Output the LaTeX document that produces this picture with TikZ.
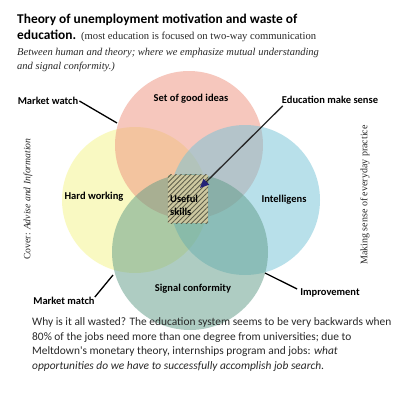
\documentclass[tikz,border=0pt]{standalone}
\usepackage{fontspec}
\setmainfont{Liberation Serif}
\newfontfamily\calfont{Carlito}
\usetikzlibrary{patterns.meta,arrows.meta}
\definecolor{cyel}{RGB}{245,245,135}
\definecolor{cred}{RGB}{238,145,125}
\definecolor{cblue}{RGB}{115,195,215}
\definecolor{cteal}{RGB}{95,155,135}
\definecolor{navytip}{RGB}{35,35,120}
\definecolor{hatchbg}{RGB}{205,200,160}
\definecolor{hatchln}{RGB}{95,95,75}
\definecolor{txtgray}{RGB}{40,40,40}
\begin{document}
\begin{tikzpicture}[x=1pt,y=-1pt,
  venn/.style={circle,draw=none,inner sep=0pt,outer sep=0pt,fill opacity=0.5},
  vlabel/.style={font=\calfont\bfseries\fontsize{10.5}{12}\selectfont,inner sep=0pt,text=black},
  conn/.style={draw=black,line width=1.3pt},
  title/.style={anchor=base west,inner sep=0pt},
  para/.style={anchor=base west,inner sep=0pt,font=\calfont\fontsize{11.4}{13}\selectfont,text=txtgray},
  side/.style={inner sep=0pt,rotate=90,text=txtgray}]
\useasboundingbox (0,0) rectangle (400,400);
\fill[white] (0,0) rectangle (400,400);

% circles
\node[venn,fill=cyel,minimum size=146pt] (yel) at (135,200) {};
\node[venn,fill=cred,minimum size=148pt] (red) at (189,145) {};
\node[venn,fill=cblue,minimum size=150pt] (blu) at (245,200) {};
\node[venn,fill=cteal,minimum size=156pt] (tea) at (190,252) {};

% hatched box
\node[draw=none,fill=hatchbg,minimum width=40pt,minimum height=48pt,inner sep=0pt] (skills) at (188,199) {};
\fill[pattern={Lines[distance=3.5pt,angle=45,line width=0.9pt]},pattern color=hatchln] (skills.south west) rectangle (skills.north east);
\node[vlabel,align=left,anchor=north west,font=\calfont\bfseries\fontsize{10.5}{13}\selectfont] (skillstxt) at (170,195) {Useful\\skills};

% title
\node[title,font=\calfont\bfseries\fontsize{13.4}{15}\selectfont] (t1) at (17,23) {Theory of unemployment motivation and waste of};
\node[title,font=\calfont\bfseries\fontsize{13.4}{15}\selectfont] (t2) at (17,39) {education.};
\node[title,font=\fontsize{10.6}{12}\selectfont,text=txtgray] (t2b) at (81,39) {(most education is focused on two-way communication};
\node[title,font=\itshape\fontsize{10.5}{12}\selectfont,text=txtgray] (t3) at (17,55.5) {Between human and theory; where we emphasize mutual understanding};
\node[title,font=\itshape\fontsize{10.5}{12}\selectfont,text=txtgray] (t4) at (17,69) {and signal conformity.)};

% labels
\node[vlabel] (ideas) at (191,99) {Set of good ideas};
\node[vlabel] (hard) at (94,197) {Hard working};
\node[vlabel] (intel) at (284,200) {Intelligens};
\node[vlabel] (signal) at (193,289) {Signal conformity};
\node[vlabel] (mwatch) at (48,101) {Market watch};
\node[vlabel] (mmatch) at (64,301) {Market match};
\node[vlabel] (improve) at (330,293) {Improvement};
\node[vlabel] (edu) at (330,100) {Education make sense};

% connectors
\coordinate (mwend) at (117,123);
\coordinate (mmend) at (113,275);
\coordinate (imend) at (265,273);
\coordinate (tip) at (200,188);
\draw[conn] ([xshift=1pt]mwatch.east) -- (mwend);
\draw[conn] (mmatch.north east) -- (mmend);
\draw[conn] (imend) -- ([xshift=-3pt,yshift=4pt]improve.west);
\draw[draw=txtgray,line width=1.3pt,-{Triangle[length=9pt,width=8pt,fill=navytip,color=navytip]}] ([xshift=1pt,yshift=-2pt]edu.south west) -- (tip);

% side texts
\node[side,font=\fontsize{9.7}{12}\selectfont] (cover) at (28,199) {Cover: \textit{Advise and Information}};
\node[side,font=\fontsize{10}{12}\selectfont] (making) at (365,195) {Making sense of everyday practice};

% paragraph
\node[para] (p1) at (32,325.5) {Why is it all wasted? The education system seems to be very backwards when};
\node[para] (p2) at (32,340) {80\% of the jobs need more than one degree from universities; due to};
\node[para] (p3) at (32,354.5) {Meltdown's monetary theory, internships program and jobs: \textit{what}};
\node[para] (p4) at (32,369) {\textit{opportunities do we have to successfully accomplish job search.}};
\end{tikzpicture}
\end{document}
